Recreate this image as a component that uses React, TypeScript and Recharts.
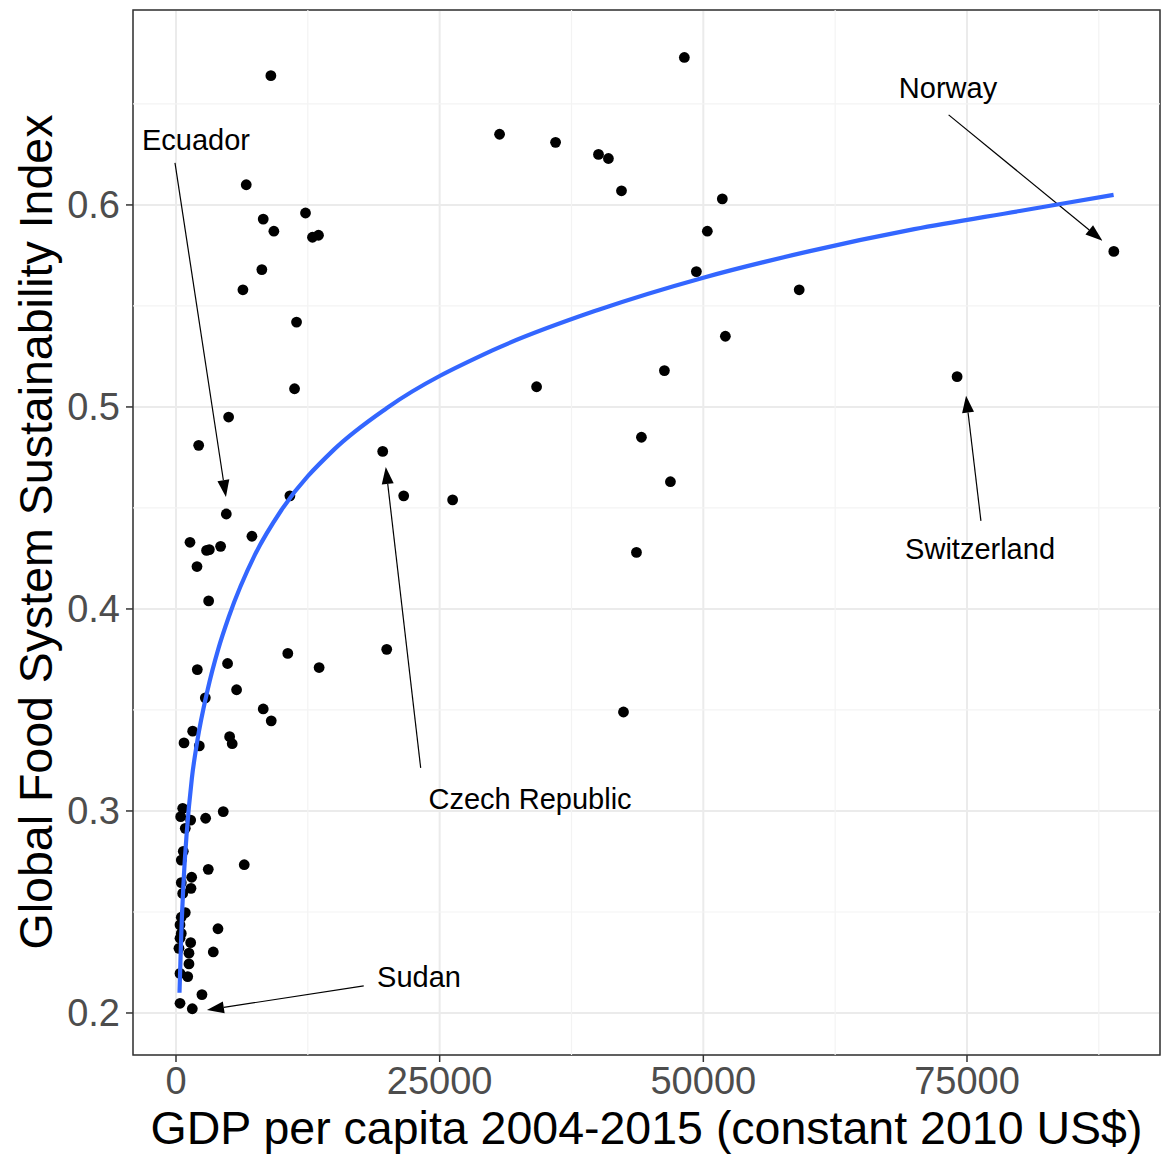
import React from 'react';
import {
  ScatterChart,
  Scatter,
  XAxis,
  YAxis,
  CartesianGrid,
  ReferenceLine,
  ReferenceDot,
  ReferenceArea,
} from 'recharts';

// GDP per capita (constant 2010 US$) and GFSSI per country
const gdp = [
  8996, 48200, 30680, 35990, 40060, 41000, 42240, 51800, 50380, 49340,
  59090, 52090, 46310, 34190, 44130, 46880, 43660, 42430, 88920, 74060,
  19600, 21590, 26230, 19980, 6660, 8270, 12280, 9280, 12940, 13510,
  8140, 6345, 11430, 11240, 4990, 2150, 4770, 10800, 7200, 1326,
  2900, 3160, 4230, 1990, 3095, 10600, 13570, 2020, 4890, 5745,
  2780, 8270, 9030, 1580, 760, 2210, 5085, 5330, 635, 445,
  1390, 2810, 4480, 880, 690, 500, 3060, 6470, 1485, 500,
  1420, 635, 880, 500, 380, 3980, 500, 380, 1390, 280,
  1230, 3535, 1230, 380, 1110, 2460, 380, 1545,
];
const gfssi = [
  0.664, 0.673, 0.635, 0.631, 0.625, 0.623, 0.607, 0.603, 0.587, 0.567,
  0.558, 0.535, 0.518, 0.51, 0.485, 0.463, 0.428, 0.349, 0.577, 0.515,
  0.478, 0.456, 0.454, 0.38, 0.61, 0.593, 0.596, 0.587, 0.584, 0.585,
  0.568, 0.558, 0.542, 0.509, 0.495, 0.481, 0.447, 0.456, 0.436, 0.433,
  0.429, 0.4294, 0.431, 0.421, 0.404, 0.378, 0.371, 0.37, 0.373, 0.36,
  0.356, 0.3505, 0.3446, 0.3395, 0.3337, 0.3322, 0.3368, 0.3333, 0.3013, 0.2972,
  0.2955, 0.2964, 0.2997, 0.2914, 0.28, 0.2757, 0.2711, 0.2734, 0.2672, 0.2645,
  0.2617, 0.2592, 0.2497, 0.2474, 0.2436, 0.2417, 0.2394, 0.237, 0.2348, 0.232,
  0.2296, 0.2302, 0.2243, 0.2196, 0.218, 0.2091, 0.2048, 0.2021,
];

// fitted curve
const fitGdp = [330, 500, 750, 1000, 1500, 2000, 3000, 4000, 5000, 7500, 10000, 15000, 20000, 30000, 40000, 50000, 60000, 70000, 80000, 88900];
const fitIndex = [0.21, 0.239, 0.268, 0.288, 0.316, 0.334, 0.36, 0.38, 0.396, 0.427, 0.449, 0.479, 0.4995, 0.528, 0.548, 0.564, 0.577, 0.588, 0.597, 0.605];

const xTicks = [0, 25000, 50000, 75000];
const yTicks = [0.2, 0.3, 0.4, 0.5, 0.6];
const xMinor = [12500, 37500, 62500, 87500];
const yMinor = [0.25, 0.35, 0.45, 0.55, 0.65];
const xDomain = [-4077, 93300];
const yDomain = [0.1792, 0.6965];

// annotations
const labels = ['Ecuador', 'Norway', 'Switzerland', 'Czech Republic', 'Sudan'];
const labelX = [1896, 73200, 76240, 33570, 23040];
const labelY = [0.6272, 0.6527, 0.4245, 0.3012, 0.2131];
const arrowFromX = [-95, 73260, 76320, 23200, 17800];
const arrowFromY = [0.6208, 0.6446, 0.4436, 0.3213, 0.2134];
const arrowToX = [4735, 87840, 74910, 19890, 2935];
const arrowToY = [0.4554, 0.5823, 0.5056, 0.4703, 0.2015];

const points = gdp.map((x, i) => ({ x, y: gfssi[i] }));
const fit = fitGdp.map((x, i) => ({ x, y: fitIndex[i] }));

const font = '"Liberation Sans", Arial, sans-serif';

const Arrow = (props: any) => {
  const { x1, y1, x2, y2 } = props;
  const a = Math.atan2(y2 - y1, x2 - x1);
  const len = 17;
  const half = 6;
  const bx = x2 - len * Math.cos(a);
  const by = y2 - len * Math.sin(a);
  const p1 = `${bx + half * Math.sin(a)},${by - half * Math.cos(a)}`;
  const p2 = `${bx - half * Math.sin(a)},${by + half * Math.cos(a)}`;
  return (
    <g>
      <line x1={x1} y1={y1} x2={bx} y2={by} stroke="#000" strokeWidth={1.2} />
      <polygon points={`${x2},${y2} ${p1} ${p2}`} fill="#000" />
    </g>
  );
};

const App: React.FC = () => {
  return (
    <div style={{ position: 'absolute', left: 0, top: 0, width: 1163, height: 1154, fontFamily: font }}>
      <ScatterChart width={1163} height={1154} margin={{ top: 10, right: 3, left: 10, bottom: 10 }}>
        <CartesianGrid stroke="#EBEBEB" strokeWidth={2} />
        {xMinor.map((v) => (
          <ReferenceLine key={'xm' + v} x={v} stroke="#F3F3F3" strokeWidth={1.2} />
        ))}
        {yMinor.map((v) => (
          <ReferenceLine key={'ym' + v} y={v} stroke="#F3F3F3" strokeWidth={1.2} />
        ))}
        <XAxis
          type="number"
          dataKey="x"
          domain={xDomain}
          ticks={xTicks}
          interval={0}
          allowDataOverflow
          axisLine={false}
          tickSize={7}
          tickMargin={5}
          tickLine={{ stroke: '#333333', strokeWidth: 1.5 }}
          tick={{ fontSize: 38, fill: '#4D4D4D', fontFamily: font }}
          height={89}
          label={{
            value: 'GDP per capita 2004-2015 (constant 2010 US$)',
            position: 'insideBottom',
            offset: 0,
            fontSize: 46.5,
            fill: '#000',
            fontFamily: font,
          }}
        />
        <YAxis
          type="number"
          dataKey="y"
          domain={yDomain}
          ticks={yTicks}
          interval={0}
          allowDataOverflow
          axisLine={false}
          tickSize={7}
          tickMargin={6}
          tickLine={{ stroke: '#333333', strokeWidth: 1.5 }}
          tick={{ fontSize: 38, fill: '#4D4D4D', fontFamily: font }}
          tickFormatter={(v: number) => v.toFixed(1)}
          width={123}
          label={{
            content: () => (
              <text
                transform="translate(52,532) rotate(-90)"
                textAnchor="middle"
                fontSize={46.5}
                fill="#000"
                fontFamily={font}
              >
                Global Food System Sustainability Index
              </text>
            ),
          }}
        />
        <ReferenceArea
          x1={xDomain[0]}
          x2={xDomain[1]}
          y1={yDomain[0]}
          y2={yDomain[1]}
          fill="none"
          fillOpacity={0}
          stroke="#333333"
          strokeWidth={1.5}
          ifOverflow="visible"
        />
        <Scatter
          data={points}
          isAnimationActive={false}
          shape={(p: any) => <circle cx={p.cx} cy={p.cy} r={5.4} fill="#000" />}
        />
        <Scatter
          data={fit}
          isAnimationActive={false}
          line={{ stroke: '#3366FF', strokeWidth: 4.2 }}
          lineJointType="monotoneX"
          shape={() => <g />}
        />
        {labels.map((t, i) => (
          <ReferenceLine
            key={'a' + t}
            segment={[
              { x: arrowFromX[i], y: arrowFromY[i] },
              { x: arrowToX[i], y: arrowToY[i] },
            ]}
            ifOverflow="visible"
            shape={Arrow}
          />
        ))}
        {labels.map((t, i) => (
          <ReferenceDot
            key={'l' + t}
            x={labelX[i]}
            y={labelY[i]}
            r={0}
            ifOverflow="visible"
            shape={(p: any) => (
              <text x={p.cx} y={p.cy} textAnchor="middle" fontSize={29} fill="#000" fontFamily={font}>
                {t}
              </text>
            )}
          />
        ))}
      </ScatterChart>
    </div>
  );
};

export default App;
